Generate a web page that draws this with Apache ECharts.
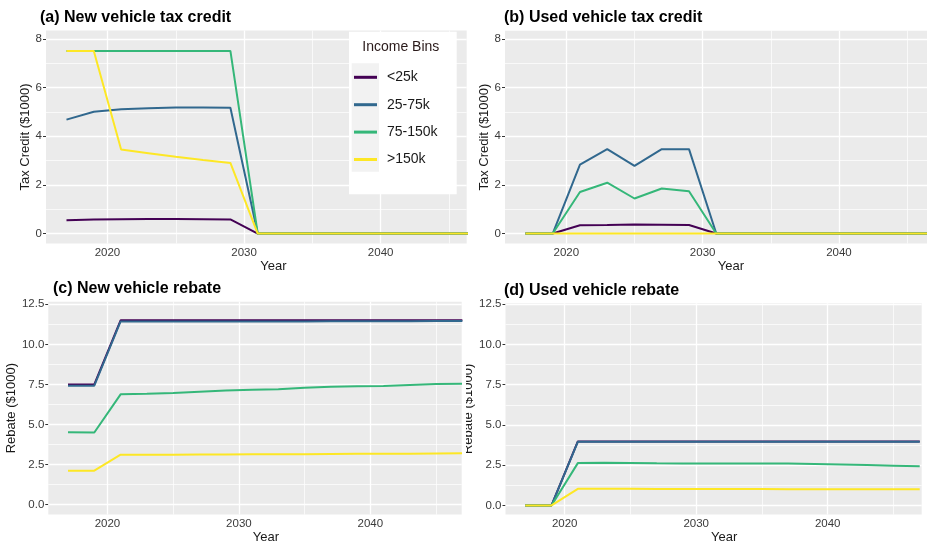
<!DOCTYPE html>
<html>
<head>
<meta charset="utf-8">
<script src="https://cdn.jsdelivr.net/npm/echarts@6/dist/echarts.min.js"></script>
<style>
  html, body { margin: 0; padding: 0; background: #ffffff; }
  #chart { width: 927px; height: 545px; }
</style>
</head>
<body>
<div id="chart"></div>
<script>
// ---- data ----
const years = [2017, 2019, 2021, 2023, 2025, 2027, 2029, 2031, 2033, 2035, 2037, 2039, 2041, 2043, 2045, 2047];
const incomeBins = ['<25k', '25-75k', '75-150k', '>150k'];

// (a) new vehicle tax credit, $1000
const newCreditLow   = [0.55, 0.58, 0.59, 0.60, 0.60, 0.59, 0.58, 0, 0, 0, 0, 0, 0, 0, 0, 0];
const newCreditMid   = [4.68, 5.00, 5.10, 5.15, 5.18, 5.18, 5.17, 0, 0, 0, 0, 0, 0, 0, 0, 0];
const newCreditUpper = [7.50, 7.50, 7.50, 7.50, 7.50, 7.50, 7.50, 0, 0, 0, 0, 0, 0, 0, 0, 0];
const newCreditHigh  = [7.50, 7.50, 3.45, 3.30, 3.15, 3.02, 2.90, 0, 0, 0, 0, 0, 0, 0, 0, 0];

// (b) used vehicle tax credit, $1000
const usedCreditLow   = [0, 0, 0.34, 0.35, 0.37, 0.36, 0.35, 0, 0, 0, 0, 0, 0, 0, 0, 0];
const usedCreditMid   = [0, 0, 2.83, 3.47, 2.78, 3.47, 3.47, 0, 0, 0, 0, 0, 0, 0, 0, 0];
const usedCreditUpper = [0, 0, 1.71, 2.09, 1.44, 1.85, 1.74, 0, 0, 0, 0, 0, 0, 0, 0, 0];
const usedCreditHigh  = [0, 0, 0, 0, 0, 0, 0, 0, 0, 0, 0, 0, 0, 0, 0, 0];

// (c) new vehicle rebate, $1000
const newRebateLow   = [7.50, 7.50, 11.50, 11.50, 11.50, 11.50, 11.50, 11.50, 11.50, 11.50, 11.50, 11.50, 11.50, 11.50, 11.50, 11.50];
const newRebateMid   = [7.42, 7.42, 11.43, 11.43, 11.43, 11.43, 11.43, 11.43, 11.43, 11.43, 11.44, 11.44, 11.44, 11.44, 11.45, 11.45];
const newRebateUpper = [4.52, 4.50, 6.88, 6.92, 6.97, 7.05, 7.12, 7.16, 7.20, 7.30, 7.36, 7.38, 7.40, 7.47, 7.52, 7.54];
const newRebateHigh  = [2.12, 2.12, 3.12, 3.12, 3.12, 3.13, 3.13, 3.14, 3.14, 3.15, 3.16, 3.17, 3.17, 3.18, 3.19, 3.20];

// (d) used vehicle rebate, $1000
const usedRebateLow   = [0, 0, 3.98, 3.98, 3.98, 3.98, 3.98, 3.98, 3.98, 3.98, 3.98, 3.98, 3.98, 3.98, 3.98, 3.98];
const usedRebateMid   = [0, 0, 3.95, 3.95, 3.95, 3.95, 3.95, 3.95, 3.95, 3.95, 3.95, 3.95, 3.95, 3.95, 3.95, 3.95];
const usedRebateUpper = [0, 0, 2.63, 2.65, 2.64, 2.62, 2.61, 2.60, 2.60, 2.60, 2.61, 2.58, 2.55, 2.51, 2.47, 2.43];
const usedRebateHigh  = [0, 0, 1.03, 1.03, 1.03, 1.02, 1.02, 1.02, 1.02, 1.02, 1.01, 1.01, 1.01, 1.01, 1.00, 1.00];

// axis breaks
const creditTicks = [0, 2, 4, 6, 8];
const creditMinor = [1, 3, 5, 7];
const rebateTicks = [0, 2.5, 5, 7.5, 10, 12.5];
const rebateMinor = [1.25, 3.75, 6.25, 8.75, 11.25];
const yearTicks = [2020, 2030, 2040];
const yearMinor = [2025, 2035, 2045];

// ---- styling ----
const binColors = ['#440154', '#31688E', '#35B779', '#FDE725'];
const FONT = 'Liberation Sans, Arial, Helvetica, sans-serif';
const PANEL_BG = '#ebebeb';

const panels = [
  { title: '(a) New vehicle tax credit', tx: 40, ty: 9.5,
    left: 46, top: 30.5, width: 420.7, height: 213,
    xMin: 2015.5, xMax: 2046.3, yMin: -0.41, yMax: 8.34,
    yName: 'Tax Credit ($1000)', yGap: 11, yearPad: 34, yearGap: 12.5,
    ticks: creditTicks, minor: creditMinor, digits: 0,
    values: [newCreditLow, newCreditMid, newCreditUpper, newCreditHigh] },
  { title: '(b) Used vehicle tax credit', tx: 504, ty: 10,
    left: 505, top: 30.7, width: 422, height: 212.8,
    xMin: 2015.5, xMax: 2046.46, yMin: -0.41, yMax: 8.34,
    yName: 'Tax Credit ($1000)', yGap: 11, yearPad: 30, yearGap: 12.5,
    ticks: creditTicks, minor: creditMinor, digits: 0,
    values: [usedCreditLow, usedCreditMid, usedCreditUpper, usedCreditHigh] },
  { title: '(c) New vehicle rebate', tx: 53, ty: 281,
    left: 48.3, top: 301.7, width: 413.4, height: 215,
    xMin: 2015.5, xMax: 2046.95, yMin: -0.62, yMax: 12.66,
    yName: 'Rebate ($1000)', yGap: 29, yearPad: 22, yearGap: 13,
    ticks: rebateTicks, minor: rebateMinor, digits: 1,
    values: [newRebateLow, newRebateMid, newRebateUpper, newRebateHigh] },
  { title: '(d) Used vehicle rebate', tx: 504, ty: 283,
    left: 505.5, top: 303.3, width: 416.2, height: 212.7,
    xMin: 2015.5, xMax: 2047.15, yMin: -0.57, yMax: 12.56,
    yName: 'Rebate ($1000)', yGap: 29, yearPad: 21, yearGap: 14,
    ticks: rebateTicks, minor: rebateMinor, digits: 1,
    values: [usedRebateLow, usedRebateMid, usedRebateUpper, usedRebateHigh] }
];

const titles = [], grids = [], xAxes = [], yAxes = [], series = [];

panels.forEach((p, i) => {
  titles.push({
    text: p.title, left: p.tx, top: p.ty, padding: 0,
    textStyle: { fontFamily: FONT, fontSize: 16, fontWeight: 'bold', color: '#000000' }
  });
  grids.push({
    left: p.left, top: p.top, width: p.width, height: p.height,
    show: true, backgroundColor: PANEL_BG, borderWidth: 0, containLabel: false
  });
  xAxes.push({
    type: 'value', gridIndex: i, min: p.xMin, max: p.xMax,
    name: 'Year', nameLocation: 'middle', nameGap: p.yearGap,
    nameTextStyle: { fontFamily: FONT, fontSize: 13, color: '#1a1a1a', padding: [0, 0, 0, p.yearPad] },
    axisLine: { show: false },
    axisTick: { show: true, length: 3, customValues: yearTicks, lineStyle: { color: '#333333', width: 1 } },
    axisLabel: { customValues: yearTicks, margin: 3.5, fontFamily: FONT, fontSize: 11.5, color: '#3a3a3a',
                 formatter: v => String(v) },
    splitLine: { show: false }
  });
  yAxes.push({
    type: 'value', gridIndex: i, min: p.yMin, max: p.yMax,
    name: p.yName, nameLocation: 'middle', nameGap: p.yGap,
    nameTextStyle: { fontFamily: FONT, fontSize: 13, color: '#1a1a1a' },
    axisLine: { show: false },
    axisTick: { show: true, length: 3, customValues: p.ticks, lineStyle: { color: '#333333', width: 1 } },
    axisLabel: { customValues: p.ticks, margin: 4, fontFamily: FONT, fontSize: 11.5, color: '#3a3a3a',
                 formatter: v => Number(v).toFixed(p.digits) },
    splitLine: { show: false }
  });

  // white panel grid: major and minor breaks drawn as reference lines
  const major = { color: '#ffffff', width: 1.3, type: 'solid' };
  const minorStyle = { color: '#ffffff', width: 0.7, type: 'solid' };
  series.push({
    type: 'line', name: 'panel-grid-' + i, xAxisIndex: i, yAxisIndex: i,
    data: [], silent: true, z: 1, animation: false,
    markLine: {
      silent: true, z: 1, animation: false,
      symbol: ['none', 'none'], label: { show: false },
      emphasis: { disabled: true },
      data: [
        ...p.minor.map(v => ({ yAxis: v, lineStyle: minorStyle })),
        ...yearMinor.map(v => ({ xAxis: v, lineStyle: minorStyle })),
        ...p.ticks.map(v => ({ yAxis: v, lineStyle: major })),
        ...yearTicks.map(v => ({ xAxis: v, lineStyle: major }))
      ]
    }
  });

  incomeBins.forEach((name, k) => {
    series.push({
      type: 'line', name: name, xAxisIndex: i, yAxisIndex: i,
      data: years.map((yr, j) => [yr, p.values[k][j]]),
      showSymbol: false, symbol: 'none', clip: true, silent: true,
      z: 3, animation: false,
      color: binColors[k],
      lineStyle: { width: 2, color: binColors[k] },
      itemStyle: { color: binColors[k] }
    });
  });
});

const chart = echarts.init(document.getElementById('chart'), null, { renderer: 'canvas' });
chart.setOption({
  animation: false,
  textStyle: { fontFamily: FONT },
  title: titles,
  grid: grids,
  xAxis: xAxes,
  yAxis: yAxes,
  series: series,
  legend: {
    data: incomeBins, orient: 'vertical', left: 354, top: 70.3, padding: 0,
    icon: 'rect', itemWidth: 23, itemHeight: 3, itemGap: 13.4,
    selectedMode: false, z: 6,
    textStyle: { fontFamily: FONT, fontSize: 14, color: '#1a1a1a', padding: [0, 0, 0, 5] }
  },
  graphic: [
    // legend box and key background
    { type: 'rect', z: 4, silent: true, shape: { x: 349, y: 31.7, width: 107.7, height: 162.6 },
      style: { fill: '#ffffff' } },
    { type: 'rect', z: 5, silent: true, shape: { x: 351.7, y: 63.3, width: 27.3, height: 108.4 },
      style: { fill: '#f2f2f2' } },
    { type: 'text', z: 6, silent: true, x: 400.8, y: 47.3,
      style: { text: 'Income Bins', fontFamily: FONT, fontSize: 14, fill: '#2a1a1a',
               align: 'center', verticalAlign: 'middle' } },
    // gutter between the two lower panels
    { type: 'rect', z: 10, silent: true, shape: { x: 462, y: 360, width: 4, height: 100 },
      style: { fill: '#ffffff' } }
  ]
});
</script>
</body>
</html>
